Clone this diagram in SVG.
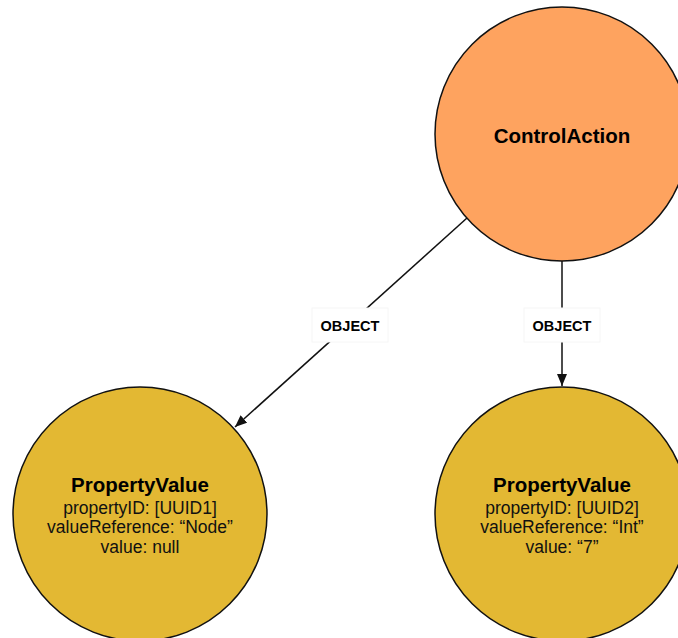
<svg xmlns="http://www.w3.org/2000/svg" width="678" height="638" viewBox="0 0 678 638">
<style>
.node{stroke:#111;stroke-width:1.5}
.title{font-family:"Liberation Sans",Arial,sans-serif;font-weight:bold;text-anchor:middle;fill:#000}
.prop{font-family:"Liberation Sans",Arial,sans-serif;font-size:17.5px;text-anchor:middle;fill:#111}
.edge{stroke:#111;stroke-width:1.5;fill:none}
.lbl{fill:#fff;stroke:#f6f6f6;stroke-width:1}
.lbltxt{font-family:"Liberation Sans",Arial,sans-serif;font-weight:bold;font-size:14.5px;text-anchor:middle;fill:#000}
</style>
<defs>
<marker id="arrow" viewBox="0 0 12 10" refX="12" refY="5" markerWidth="12" markerHeight="10" markerUnits="userSpaceOnUse" orient="auto">
<path d="M0,0 L12,5 L0,10 z" fill="#111"/>
</marker>
</defs>
<rect width="678" height="638" fill="#fff"/>
<g id="connectors">
<g id="edge1">
<line class="edge" x1="467" y1="218" x2="235" y2="427" marker-end="url(#arrow)"/>
<rect class="lbl" x="312" y="308" width="76" height="34"/>
<text class="lbltxt" x="350" y="331">OBJECT</text>
</g>
<g id="edge2">
<line class="edge" x1="562" y1="261" x2="562" y2="386" marker-end="url(#arrow)"/>
<rect class="lbl" x="524" y="308" width="76" height="34"/>
<text class="lbltxt" x="562" y="331">OBJECT</text>
</g>
</g>
<g id="controlAction">
<circle class="node" cx="562" cy="134" r="127" fill="#FEA35F"/>
<text class="title" x="562" y="143" style="font-size:20.5px">ControlAction</text>
</g>
<g id="propertyValue1">
<circle class="node" cx="140" cy="514" r="127" fill="#E3B833"/>
<text class="title" x="140" y="492" style="font-size:20.5px">PropertyValue</text>
<text class="prop" x="140" y="514">propertyID: [UUID1]</text>
<text class="prop" x="140" y="533">valueReference: “Node”</text>
<text class="prop" x="140" y="553">value: null</text>
</g>
<g id="propertyValue2">
<circle class="node" cx="562" cy="514" r="127" fill="#E3B833"/>
<text class="title" x="562" y="492" style="font-size:20.5px">PropertyValue</text>
<text class="prop" x="562" y="514">propertyID: [UUID2]</text>
<text class="prop" x="562" y="533">valueReference: “Int”</text>
<text class="prop" x="562" y="553">value: “7”</text>
</g>
</svg>
